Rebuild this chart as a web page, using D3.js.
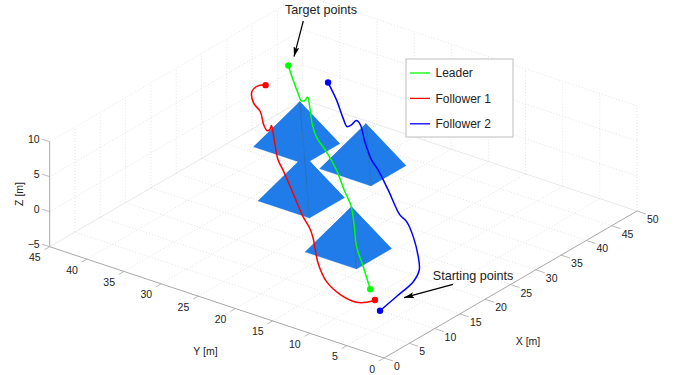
<!DOCTYPE html>
<html>
<head>
<meta charset="utf-8">
<script src="https://cdn.jsdelivr.net/npm/d3@7"></script>
<style>
  html, body { margin: 0; padding: 0; background: #fff; }
  svg { display: block; }
  text { font-family: "Liberation Sans", Arial, sans-serif; fill: #222; }
</style>
</head>
<body>
<div id="chart"></div>
<script>
const xTicks = [0, 5, 10, 15, 20, 25, 30, 35, 40, 45, 50]
const yTicks = [0, 5, 10, 15, 20, 25, 30, 35, 40, 45]
const zTicks = [-5, 0, 5, 10]

// trajectories, start point first
const leaderX = [6.30, 10.69, 14.53, 17.96, 21.63, 24.08, 28.17, 31.41, 33.64, 34.67, 38.43, 40.32, 39.30, 39.12, 38.97, 41.49, 44.25]
const leaderY = [6.14, 10.07, 13.59, 16.29, 19.21, 21.68, 25.59, 29.15, 31.93, 33.26, 36.18, 37.74, 37.46, 37.78, 38.12, 40.51, 43.02]
const leaderZ = [0, 0, 0, 1, 1, 1, 1, 1, 1, 2, 2, 2, 2, 2, 3, 3, 3]

const follower1X = [4.32, 3.23, 2.51, 3.04, 4.80, 8.18, 11.72, 13.64, 15.67, 20.01, 24.33, 26.14, 29.35, 31.56, 30.51, 30.16, 31.16, 32.28, 33.62, 36.01, 37.67, 38.37]
const follower1Y = [4.16, 4.53, 5.39, 8.00, 11.00, 14.44, 17.52, 19.28, 21.57, 25.87, 30.17, 32.07, 34.84, 36.65, 36.17, 36.29, 37.41, 38.64, 40.45, 42.31, 42.63, 42.07]
const follower1Z = [0, 0, 0, 0, 0, 0, 1, 1, 1, 1, 1, 1, 2, 2, 2, 2, 2, 3, 3, 3, 3, 3]

const follower2X = [2.37, 6.49, 11.04, 14.00, 16.81, 20.78, 23.54, 24.51, 27.57, 31.17, 32.86, 36.34, 38.12, 38.76, 37.47, 36.79, 36.81, 40.29, 43.43]
const follower2Y = [2.15, 2.81, 3.58, 4.79, 6.84, 10.22, 12.99, 14.56, 18.22, 22.03, 24.06, 27.34, 29.14, 30.11, 29.91, 30.03, 30.58, 33.84, 37.11]
const follower2Z = [0, 0, 0, 0, 0, 0, 0, 0, 1, 1, 1, 1, 2, 2, 2, 2, 3, 3, 3]

// pyramids, back to front
const pyramidX = [28.7, 28.7, 17.35, 9.7]
const pyramidY = [30.2, 21.3, 21.85, 10.3]
const pyramidSide = [6.9, 6.9, 6.9, 6.9]
const pyramidTopX = [32.4, 32.4, 21.05, 13.4]
const pyramidTopY = [33.4, 24.5, 25.05, 13.5]
const pyramidTopZ = [6.2, 6.2, 6.2, 6.2]

const seriesNames = ["Leader", "Follower 1", "Follower 2"]
const seriesColors = ["#00ff00", "#ff0000", "#0000ff"]

const width = 678, height = 375

const svg = d3.select("#chart")
  .append("svg")
    .attr("width", width)
    .attr("height", height)

// oblique view of the box: every axis moves the point along its own screen direction
const xToLeft = d3.scaleLinear().domain([0, 50]).range([384, 637])
const xToTop = d3.scaleLinear().domain([0, 50]).range([358, 211])
const yToLeft = d3.scaleLinear().domain([0, 45]).range([0, -334.3])
const yToTop = d3.scaleLinear().domain([0, 45]).range([0, -111.3])
const zToTop = d3.scaleLinear().domain([-5, 10]).range([0, -105])

function project(x, y, z) {
  return [xToLeft(x) + yToLeft(y), xToTop(x) + yToTop(y) + zToTop(z)]
}

function segment(g, a, b, color, dash, w) {
  const p = project(a[0], a[1], a[2]), q = project(b[0], b[1], b[2])
  g.append("line")
    .attr("x1", p[0]).attr("y1", p[1])
    .attr("x2", q[0]).attr("y2", q[1])
    .attr("stroke", color)
    .attr("stroke-width", w || 0.8)
    .attr("stroke-dasharray", dash || null)
}

// grid
const grid = svg.append("g")
const gridColor = "#dcdcdc", dots = "1 2"
const xMax = 50, yMax = 45, zMin = -5, zMax = 10

xTicks.forEach(x => {
  if (x > 0 && x < xMax) segment(grid, [x, 0, zMin], [x, yMax, zMin], gridColor, dots)
  if (x > 0) segment(grid, [x, yMax, zMin], [x, yMax, zMax], gridColor, dots)
})
yTicks.forEach(y => {
  if (y > 0 && y < yMax) segment(grid, [0, y, zMin], [xMax, y, zMin], gridColor, dots)
  if (y < yMax) segment(grid, [xMax, y, zMin], [xMax, y, zMax], gridColor, dots)
})
zTicks.filter(z => z > zMin).forEach(z => {
  segment(grid, [0, yMax, z], [xMax, yMax, z], gridColor, dots)
  segment(grid, [xMax, 0, z], [xMax, yMax, z], gridColor, dots)
})
segment(grid, [0, yMax, zMin], [xMax, yMax, zMin], "#e2e2e2", null)
segment(grid, [xMax, 0, zMin], [xMax, yMax, zMin], "#e2e2e2", null)

// axes
const axes = svg.append("g")
const axisColor = "#a8a8a8"
segment(axes, [0, 0, zMin], [xMax, 0, zMin], axisColor, null, 1)
segment(axes, [0, 0, zMin], [0, yMax, zMin], axisColor, null, 1)
segment(axes, [0, yMax, zMin], [0, yMax, zMax], axisColor, null, 1)

xTicks.forEach(x => {
  segment(axes, [x, 0, zMin], [x, -1.2, zMin], axisColor)
  const p = project(x, 0, zMin)
  axes.append("text").attr("x", p[0] + 10).attr("y", p[1] + 12)
    .attr("font-size", 10.5).text(x)
})
yTicks.forEach(y => {
  segment(axes, [0, y, zMin], [-1, y, zMin], axisColor)
  const p = project(0, y, zMin)
  axes.append("text").attr("x", p[0] - 9).attr("y", p[1] + 14.5)
    .attr("text-anchor", "end").attr("font-size", 10.5).text(y)
})
zTicks.forEach(z => {
  segment(axes, [0, yMax, z], [0, yMax + 1, z], axisColor)
  const p = project(0, yMax, z)
  axes.append("text").attr("x", p[0] - 10).attr("y", p[1] + 1.5)
    .attr("text-anchor", "end").attr("font-size", 10.5)
    .text(z < 0 ? "\u2212" + (-z) : z)
})

svg.append("text").attr("x", 528).attr("y", 344.5).attr("text-anchor", "middle").attr("font-size", 10.5).text("X [m]")
svg.append("text").attr("x", 205.5).attr("y", 355).attr("text-anchor", "middle").attr("font-size", 10.5).text("Y [m]")
svg.append("text").attr("transform", "translate(23,194) rotate(-90)").attr("text-anchor", "middle").attr("font-size", 10.5).text("Z [m]")

// pyramids
const pyramids = svg.append("g")
pyramidX.forEach((px, i) => {
  const py = pyramidY[i], s = pyramidSide[i]
  const corners = [[px, py], [px + s, py], [px + s, py + s], [px, py + s]]
    .map(c => project(c[0], c[1], 0))
  const top = project(pyramidTopX[i], pyramidTopY[i], pyramidTopZ[i])
  corners.forEach((c, k) => {
    const d = corners[(k + 1) % 4]
    pyramids.append("polygon")
      .attr("points", [c, d, top].map(q => q.join(",")).join(" "))
      .attr("fill", "#1f7ce8")
      .attr("stroke", "#1f7ce8")
      .attr("stroke-width", 0.3)
  })
  // only the front ridge shows up
  pyramids.append("line")
    .attr("x1", top[0]).attr("y1", top[1])
    .attr("x2", corners[0][0]).attr("y2", corners[0][1])
    .attr("stroke", "#2a6cb8")
    .attr("stroke-width", 0.8)
})

// trajectories
const line = d3.line().curve(d3.curveCatmullRom.alpha(0.5))
const tracks = [
  [leaderX, leaderY, leaderZ],
  [follower1X, follower1Y, follower1Z],
  [follower2X, follower2Y, follower2Z]
]
const trackGroup = svg.append("g")
tracks.forEach((t, i) => {
  const pts = t[0].map((x, k) => project(x, t[1][k], t[2][k]))
  trackGroup.append("path")
    .attr("d", line(pts))
    .attr("fill", "none")
    .attr("stroke", seriesColors[i])
    .attr("stroke-width", 1.5)
  ;[pts[0], pts[pts.length - 1]].forEach(p => {
    trackGroup.append("circle")
      .attr("cx", p[0]).attr("cy", p[1]).attr("r", 3.2)
      .attr("fill", seriesColors[i])
  })
})

// legend
const legend = svg.append("g")
legend.append("rect")
  .attr("x", 406).attr("y", 59).attr("width", 107).attr("height", 78)
  .attr("fill", "#fff").attr("stroke", "#c8c8c8").attr("stroke-width", 1.2)
seriesNames.forEach((name, i) => {
  const rowY = 73 + i * 25.4
  legend.append("line")
    .attr("x1", 410).attr("x2", 430).attr("y1", rowY).attr("y2", rowY)
    .attr("stroke", seriesColors[i]).attr("stroke-width", 1.3)
  legend.append("text").attr("x", 435.5).attr("y", rowY + 4.2)
    .attr("font-size", 12).text(name)
})

// annotations
const defs = svg.append("defs")
defs.append("marker")
  .attr("id", "head")
  .attr("viewBox", "0 0 10 6")
  .attr("refX", 10).attr("refY", 3)
  .attr("markerUnits", "userSpaceOnUse")
  .attr("markerWidth", 10).attr("markerHeight", 6)
  .attr("orient", "auto")
  .append("path").attr("d", "M0,0 L10,3 L0,6 L2,3 Z").attr("fill", "#000")

svg.append("line").attr("x1", 303.3).attr("y1", 21).attr("x2", 294).attr("y2", 56.7)
  .attr("stroke", "#000").attr("stroke-width", 1.2).attr("marker-end", "url(#head)")
svg.append("line").attr("x1", 453).attr("y1", 284.3).attr("x2", 404).attr("y2", 297.7)
  .attr("stroke", "#000").attr("stroke-width", 1.2).attr("marker-end", "url(#head)")
svg.append("text").attr("x", 321).attr("y", 14).attr("text-anchor", "middle").attr("font-size", 12.6).text("Target points")
svg.append("text").attr("x", 473).attr("y", 279.5).attr("text-anchor", "middle").attr("font-size", 12.6).text("Starting points")
</script>
</body>
</html>
